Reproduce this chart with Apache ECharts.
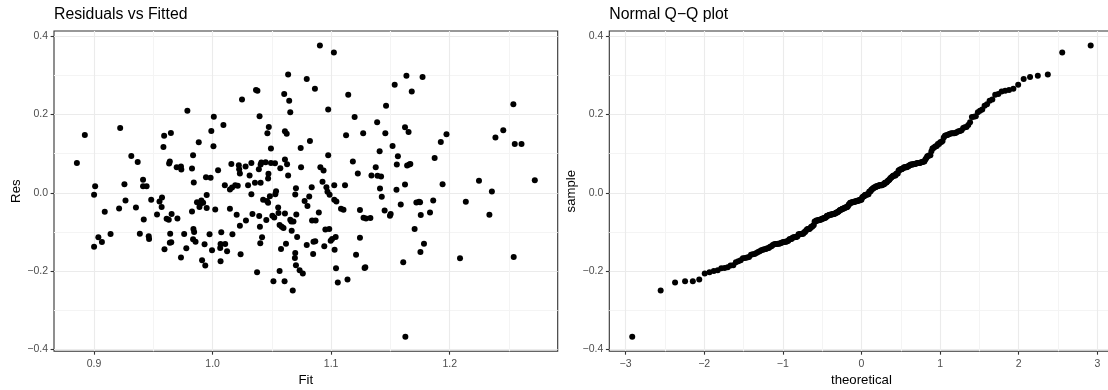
<!DOCTYPE html>
<html><head><meta charset="utf-8">
<script src="https://cdn.jsdelivr.net/npm/echarts@6/dist/echarts.min.js"></script>
<style>html,body{margin:0;padding:0;background:#fff}#c{width:1108px;height:390px}</style>
</head><body><div id="c"></div>
<script>
// Fitted values (x of left panel)
const fitted = [0.8855,0.8922,0.9000,0.9009,0.9000,0.9036,0.9066,0.9090,0.9139,0.9211,0.9220,0.9256,0.9265,0.9314,0.9353,0.9368,0.9386,0.9413,0.9413,0.9443,0.9419,0.9461,0.9464,0.9482,0.9531,0.9552,0.9573,0.9570,0.9585,0.9591,0.9594,0.9612,0.9630,0.9633,0.9639,0.9642,0.9648,0.9639,0.9654,0.9651,0.9703,0.9697,0.9733,0.9736,0.9733,0.9760,0.9778,0.9787,0.9826,0.9835,0.9826,0.9841,0.9838,0.9835,0.9844,0.9856,0.9868,0.9883,0.9889,0.9895,0.9905,0.9911,0.9920,0.9932,0.9938,0.9944,0.9950,0.9950,0.9974,0.9983,0.9989,0.9995,1.0007,1.0010,1.0022,1.0046,1.0067,1.0073,1.0067,1.0064,1.0091,1.0103,1.0106,1.0122,1.0146,1.0146,1.0158,1.0164,1.0167,1.0191,1.0203,1.0212,1.0221,1.0224,1.0230,1.0230,1.0236,1.0248,1.0278,1.0281,1.0299,1.0312,1.0327,1.0327,1.0336,1.0357,1.0366,1.0378,1.0375,1.0390,1.0393,1.0399,1.0396,1.0402,1.0405,1.0405,1.0411,1.0417,1.0426,1.0447,1.0453,1.0459,1.0462,1.0468,1.0468,1.0471,1.0474,1.0483,1.0492,1.0492,1.0504,1.0513,1.0520,1.0526,1.0529,1.0535,1.0553,1.0556,1.0565,1.0571,1.0565,1.0577,1.0583,1.0598,1.0604,1.0607,1.0610,1.0610,1.0610,1.0619,1.0625,1.0628,1.0637,1.0637,1.0646,1.0655,1.0655,1.0664,1.0667,1.0676,1.0682,1.0694,1.0697,1.0697,1.0703,1.0703,1.0706,1.0713,1.0734,1.0743,1.0746,1.0761,1.0776,1.0794,1.0794,1.0800,1.0815,1.0821,1.0836,1.0839,1.0848,1.0851,1.0863,1.0869,1.0866,1.0896,1.0905,1.0909,1.0927,1.0936,1.0942,1.0951,1.0960,1.0969,1.0975,1.0975,1.0984,1.0987,1.0996,1.1008,1.1023,1.1026,1.1029,1.1026,1.1038,1.1041,1.1044,1.1056,1.1083,1.1104,1.1117,1.1126,1.1138,1.1144,1.1183,1.1198,1.1210,1.1225,1.1243,1.1243,1.1270,1.1273,1.1282,1.1288,1.1294,1.1331,1.1340,1.1376,1.1388,1.1391,1.1409,1.1412,1.1421,1.1427,1.1451,1.1457,1.1463,1.1496,1.1502,1.1518,1.1536,1.1551,1.1554,1.1563,1.1587,1.1608,1.1623,1.1623,1.1626,1.1635,1.1641,1.1653,1.1659,1.1668,1.1680,1.1704,1.1719,1.1741,1.1750,1.1753,1.1756,1.1771,1.1783,1.1834,1.1861,1.1873,1.1925,1.1940,1.1973,1.2087,1.2136,1.2247,1.2335,1.2356,1.2386,1.2452,1.2537,1.2540,1.2549,1.2606,1.2718];
// Residuals (y of left panel; sample of the Q-Q panel)
const residuals = [0.0765,0.1478,-0.0050,0.0171,-0.1374,-0.1136,-0.1255,-0.0483,-0.1052,-0.0398,0.1657,0.0222,-0.0194,0.0944,-0.0372,0.0791,-0.1043,0.0332,0.0171,0.0171,-0.0678,-0.1111,-0.1179,-0.0177,-0.0551,-0.0220,-0.0118,-0.0364,0.1173,0.1461,-0.1442,-0.0661,-0.0686,0.0748,0.0799,-0.1043,0.1529,-0.1272,-0.0542,-0.1264,-0.0653,0.0655,0.0672,0.0596,-0.1654,-0.1052,-0.1417,0.2098,0.0621,0.0961,-0.0474,0.0264,-0.0924,-0.1187,-0.1001,-0.1247,-0.0237,0.1292,-0.0364,-0.0287,-0.0194,-0.1722,-0.0253,-0.1315,-0.1858,0.0400,-0.0058,-0.0389,-0.1060,0.0383,0.1580,-0.1468,0.1190,0.1945,-0.0423,0.0579,-0.1748,-0.1009,-0.1306,-0.1408,0.1733,0.0196,-0.1306,-0.1493,-0.0406,0.0086,0.0740,0.0137,-0.1060,0.0196,-0.0559,0.0179,0.0706,0.0604,0.0494,-0.0839,-0.1569,0.2387,0.0672,-0.0703,0.0196,0.0443,0.0765,-0.0033,-0.0542,0.0256,0.2625,0.2608,-0.2028,0.0604,-0.0593,-0.0865,0.1954,-0.1289,0.0723,0.0256,0.0774,-0.1136,-0.0177,0.0783,-0.0695,-0.0211,0.1521,-0.0253,0.0366,0.0485,0.1682,-0.0084,0.1130,0.0765,-0.0585,-0.2257,-0.0627,0.0757,-0.0033,0.0044,-0.0372,-0.0517,-0.1994,0.0630,-0.0822,-0.1434,-0.0865,-0.0899,0.2523,-0.2257,0.1572,0.0850,-0.0525,-0.1298,0.1512,0.0731,0.3024,0.0443,0.2353,0.2056,-0.0686,-0.0729,-0.0967,-0.2495,-0.0729,-0.1663,-0.1535,-0.0041,0.0120,-0.1850,-0.0551,-0.1128,-0.1977,0.1147,0.0655,-0.2062,-0.0211,0.2905,-0.1332,-0.0338,-0.0092,0.1326,0.0146,-0.0703,-0.1561,-0.1247,0.2659,-0.0703,-0.1238,-0.0500,0.3762,0.0655,0.0281,0.0570,-0.1366,-0.0933,0.0146,0.0027,0.2132,0.0961,-0.0924,-0.0050,-0.1221,-0.1179,0.3584,0.0196,-0.1451,-0.0177,-0.1128,-0.1926,-0.0220,-0.2291,-0.0406,-0.0432,0.0196,0.1470,-0.2215,0.2506,0.0799,0.1937,-0.1578,0.0494,-0.0440,-0.1145,0.1521,-0.0636,-0.1918,-0.1901,-0.0653,-0.0644,0.0443,0.0655,0.1801,0.0434,0.1063,0.0112,0.0417,-0.0101,-0.0449,0.1521,0.2226,-0.0585,-0.0542,0.1198,0.2760,0.0078,0.0723,0.0935,-0.0296,-0.1773,0.1674,0.0213,-0.3675,0.2990,0.0697,0.1555,0.0723,0.0740,0.2591,-0.0924,-0.0245,-0.0228,-0.0237,-0.1510,-0.0568,0.2956,-0.1298,-0.0500,-0.0194,0.0893,0.1300,0.0222,0.1495,-0.1671,-0.0228,0.0307,-0.0559,0.0035,0.1411,0.1597,0.2260,-0.1637,0.1249,0.1249,0.0324];

// Tick labels (major) and minor grid positions
const resTicks = [-0.4, -0.2, 0, 0.2, 0.4];
const resMinor = [-0.3, -0.1, 0.1, 0.3];
const fitTicks = [0.9, 1.0, 1.1, 1.2];
const fitMinor = [0.95, 1.05, 1.15, 1.25];
const qqTicks = [-3, -2, -1, 0, 1, 2, 3];
const qqMinor = [-2.5, -1.5, -0.5, 0.5, 1.5, 2.5];

const titles = ['Residuals vs Fitted', 'Normal Q\u2212Q plot'];

// ---- derived ----
const n = Math.min(fitted.length, residuals.length);
const resFit = [];
for (let i = 0; i < n; i++) resFit.push([fitted[i], residuals[i]]);

// inverse standard normal CDF (Acklam) for theoretical quantiles
function qnorm(p) {
  const a = [-3.969683028665376e+01, 2.209460984245205e+02, -2.759285104469687e+02, 1.383577518672690e+02, -3.066479806614716e+01, 2.506628277459239e+00];
  const b = [-5.447609879822406e+01, 1.615858368580409e+02, -1.556989798598866e+02, 6.680131188771972e+01, -1.328068155288572e+01];
  const c = [-7.784894002430293e-03, -3.223964580411365e-01, -2.400758277161838e+00, -2.549732539343734e+00, 4.374664141464968e+00, 2.938163982698783e+00];
  const d = [7.784695709041462e-03, 3.224671290700398e-01, 2.445134137142996e+00, 3.754408661907416e+00];
  const pl = 0.02425, ph = 1 - pl;
  let q, r;
  if (p < pl) { q = Math.sqrt(-2 * Math.log(p)); return (((((c[0]*q+c[1])*q+c[2])*q+c[3])*q+c[4])*q+c[5]) / ((((d[0]*q+d[1])*q+d[2])*q+d[3])*q+1); }
  if (p > ph) { q = Math.sqrt(-2 * Math.log(1 - p)); return -(((((c[0]*q+c[1])*q+c[2])*q+c[3])*q+c[4])*q+c[5]) / ((((d[0]*q+d[1])*q+d[2])*q+d[3])*q+1); }
  q = p - 0.5; r = q * q;
  return (((((a[0]*r+a[1])*r+a[2])*r+a[3])*r+a[4])*r+a[5])*q / (((((b[0]*r+b[1])*r+b[2])*r+b[3])*r+b[4])*r+1);
}
const sorted = residuals.slice(0, n).sort((a, b) => a - b);
const qq = sorted.map((v, i) => [qnorm((i + 0.5) / n), v]);

function expand(arr) {
  const mn = Math.min.apply(null, arr), mx = Math.max.apply(null, arr);
  const d = (mx - mn) * 0.05;
  return [mn - d, mx + d];
}
const fitR = expand(fitted.slice(0, n));
const resR = expand(residuals.slice(0, n));
const qqR = expand(qq.map(p => p[0]));

const FONT = "'Liberation Sans', Arial, Helvetica, sans-serif";
const allOf = (a, b) => a.concat(b).sort((x, y) => x - y);
const minus = s => s.replace('-', '\u2212');
const fmt1 = v => minus((Math.round(v * 10) / 10).toFixed(1));
const fmt0 = v => minus(String(Math.round(v)));

const rects = [
  { left: 54, top: 31, width: 503.7, height: 320.3 },
  { left: 609.3, top: 31, width: 504.3, height: 320.3 }
];
const grids = [];
rects.forEach(r => {
  grids.push(Object.assign({ show: true, borderColor: '#333333', borderWidth: 1.1, backgroundColor: '#ffffff', containLabel: false, outerBoundsMode: 'none' }, r));
  grids.push(Object.assign({ show: false, containLabel: false, outerBoundsMode: 'none' }, r));
});

function gridAxis(gi, range, majors, minors) {
  return {
    type: 'value', gridIndex: gi, min: range[0], max: range[1],
    axisLine: { show: false, onZero: false }, axisLabel: { show: false },
    axisTick: { show: false, customValues: allOf(majors, minors) },
    splitLine: { show: true, lineStyle: { color: ['#EBEBEB', '#F4F4F4'], width: 1.1 } },
    minorSplitLine: { show: false }, minorTick: { show: false }
  };
}
function labAxis(gi, range, majors, fmt, name, isY) {
  return {
    type: 'value', gridIndex: gi, min: range[0], max: range[1],
    position: isY ? 'left' : 'bottom',
    name: name, nameLocation: 'middle', nameGap: isY ? 31 : 19,
    nameTextStyle: { color: '#000000', fontSize: 13.2, fontFamily: FONT },
    axisLine: { show: false, onZero: false },
    axisTick: { show: true, length: 3.4, customValues: majors, lineStyle: { color: '#333333', width: 1.1 } },
    axisLabel: { show: true, customValues: majors, formatter: fmt, color: '#4D4D4D', fontSize: 10.5, fontFamily: FONT, margin: isY ? 6 : 7 },
    splitLine: { show: false }, minorTick: { show: false }, minorSplitLine: { show: false }
  };
}

const option = {
  animation: false,
  backgroundColor: '#ffffff',
  title: [
    { text: titles[0], left: 54, top: 7, padding: 0, textStyle: { fontSize: 15.8, fontWeight: 'normal', color: '#000000', fontFamily: FONT } },
    { text: titles[1], left: 609.3, top: 7, padding: 0, textStyle: { fontSize: 15.8, fontWeight: 'normal', color: '#000000', fontFamily: FONT } }
  ],
  grid: grids,
  xAxis: [
    gridAxis(0, fitR, fitTicks, fitMinor),
    labAxis(1, fitR, fitTicks, fmt1, 'Fit', false),
    gridAxis(2, qqR, qqTicks, qqMinor),
    labAxis(3, qqR, qqTicks, fmt0, 'theoretical', false)
  ],
  yAxis: [
    gridAxis(0, resR, resTicks, resMinor),
    labAxis(1, resR, resTicks, fmt1, 'Res', true),
    gridAxis(2, resR, resTicks, resMinor),
    labAxis(3, resR, resTicks, fmt1, 'sample', true)
  ],
  series: [
    { type: 'scatter', xAxisIndex: 1, yAxisIndex: 1, data: resFit, symbol: 'circle', symbolSize: 6, itemStyle: { color: '#000000', opacity: 1 }, silent: true, z: 5 },
    { type: 'scatter', xAxisIndex: 3, yAxisIndex: 3, data: qq, symbol: 'circle', symbolSize: 6, itemStyle: { color: '#000000', opacity: 1 }, silent: true, z: 5 }
  ]
};
const chart = echarts.init(document.getElementById('c'), null, { renderer: 'canvas' });
chart.setOption(option);
</script>
</body></html>
